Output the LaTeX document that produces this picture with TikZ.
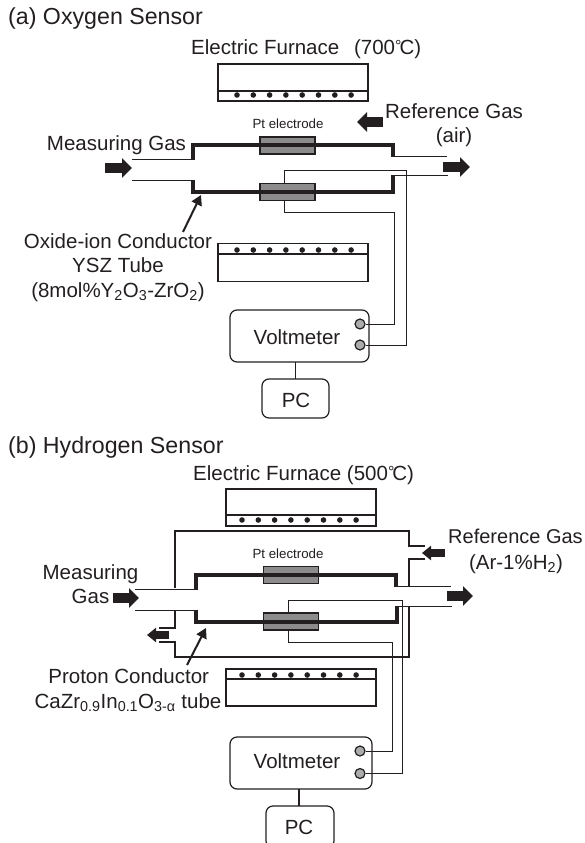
\documentclass[tikz,border=0pt]{standalone}
\usepackage{fontspec}
\setmainfont{Liberation Sans}
\usetikzlibrary{calc,arrows.meta}
\definecolor{ink}{HTML}{231F20}
\newcommand{\degC}{{\fontsize{16}{16}\selectfont\raisebox{3pt}{°}}\kern-2pt C}
\begin{document}
\begin{tikzpicture}[x=1pt,y=-1pt,color=ink,text=ink,font=\fontsize{20.5}{24}\selectfont]
        \tikzstyle{label text}=[inner sep=0,anchor=base]
        \tikzstyle{title text}=[inner sep=0,anchor=base west,font=\fontsize{23.2}{26}\selectfont]
        \tikzstyle{small text}=[inner sep=0,anchor=base,font=\fontsize{13.3}{16}\selectfont]
        \tikzstyle{furnace}=[rectangle,draw,line width=1.3,inner sep=0,outer sep=0,minimum width=150,fill=white]
        \tikzstyle{heater}=[line width=2.7]
        \tikzstyle{heat dot}=[circle,fill=ink,inner sep=0,minimum size=5.6]
        \tikzstyle{electrode}=[rectangle,draw,line width=1.2,fill=gray!90,inner sep=0,outer sep=0,minimum width=55,minimum height=17]
        \tikzstyle{tube}=[line width=4]
        \tikzstyle{thin tube}=[line width=1]
        \tikzstyle{chamber}=[line width=2.2]
        \tikzstyle{wire}=[line width=1]
        \tikzstyle{terminal}=[circle,draw,line width=1.2,fill=gray!65,inner sep=0,minimum size=10]
        \tikzstyle{meter}=[rectangle,draw,rounded corners=7,line width=1.2,inner sep=0,outer sep=0]
        \tikzstyle{gas arrow}=[line width=10,-{Triangle[length=10,width=19]}]
        \tikzstyle{small gas arrow}=[line width=7.5,-{Triangle[length=9,width=14]}]
        \tikzstyle{pointer}=[line width=2,-{Triangle[length=10,width=11]}]

        \useasboundingbox (0,0) rectangle (585,843);

        % (a) oxygen sensor
        \node(titleA)[title text] at (8,25){(a) Oxygen Sensor};
        \node(furnTextA)[label text,anchor=base west] at (191,55){Electric Furnace \ \,(700\degC)};
        \node(furnA1)[furnace,minimum height=37] at (293,82.5){};
        \node(furnA2)[furnace,minimum height=38] at (293,262.5){};
        \draw[heater] (furnA1.west |- 0,91) -- (furnA1.east |- 0,91);
        \draw[heater] (furnA2.west |- 0,254) -- (furnA2.east |- 0,254);
        \foreach \i in {0,...,7}{
            \node[heat dot] (dotA1\i) at (237+16.3*\i,95){};
            \node[heat dot] (dotA2\i) at (237+16.3*\i,250){};
        }
        \node(elecA1)[electrode] at (287.5,145.5){};
        \node(elecA2)[electrode] at (287.5,192){};
        \draw[thin tube] (132,159) -- (193,159);
        \draw[thin tube] (393,156.5) -- (447,156.5);
        \draw[thin tube] (132,180.5) -- (193,180.5);
        \draw[thin tube] (393,175.7) -- (448,175.7);
        \draw[tube] (193,159.5) |- (393,145) -- (393,157);
        \draw[tube] (193,180) |- (393,191.7) -- (393,175);
        \node(meterA)[meter,minimum width=139,minimum height=52] at (299.5,336){};
        \node(voltA)[inner sep=0] at (297,337){Voltmeter};
        \node(termA1)[terminal] at (360,324){};
        \node(termA2)[terminal] at (360,345){};
        \node(pcA)[meter,minimum width=67,minimum height=39] at (295.5,398.5){};
        \node(pcTextA)[inner sep=0] at (296,400){PC};
        \coordinate (wireA1) at (406,170);
        \coordinate (wireA2) at (394,212);
        \draw[wire] ([xshift=-3]elecA2.north) |- (wireA1) |- (termA2);
        \draw[wire] ([xshift=-3]elecA2.south) |- (wireA2) |- (termA1);
        \draw[line width=1.2] (pcA.north) -- (pcA.north |- meterA.south);
        \node(ptA)[small text] at (288,128.5){Pt electrode};
        \node(refA)[label text] at (454,118){Reference Gas};
        \node(airA)[label text] at (454,142){(air)};
        \node(measA)[label text] at (116.5,150.5){Measuring Gas};
        \node(oxideA)[label text] at (118,248){Oxide-ion Conductor};
        \node(ysz)[label text] at (118,272){YSZ Tube};
        \node(yszB)[label text] at (118,297){(8mol\%Y\textsubscript{2}O\textsubscript{3}-ZrO\textsubscript{2})};
        \draw[gas arrow] (105,168) -- (132,168);
        \draw[gas arrow] (383,122) -- (357,122);
        \draw[gas arrow] (443,167) -- (470,167);
        \coordinate (tipA) at (201,195);
        \draw[pointer] (oxideA.north -| 183,0) ++(0,-1) -- (tipA);

        % (b) hydrogen sensor
        \node(titleB)[title text] at (8,453){(b) Hydrogen Sensor};
        \node(furnTextB)[label text,anchor=base west] at (193,480){Electric Furnace (500\degC)};
        \node(furnB1)[furnace,minimum height=37] at (301,507.5){};
        \node(furnB2)[furnace,minimum height=37] at (301,687.5){};
        \draw[line width=2] (furnB1.west |- 0,515) -- (furnB1.east |- 0,515);
        \draw[heater] (furnB2.west |- 0,679) -- (furnB2.east |- 0,679);
        \foreach \i in {0,...,7}{
            \node[heat dot] (dotB1\i) at (242+16.3*\i,520){};
            \node[heat dot] (dotB2\i) at (242+16.3*\i,675){};
        }
        \node(elecB1)[electrode] at (291,575){};
        \node(elecB2)[electrode] at (291,621.5){};
        \draw[chamber] (175,588) |- (409,530.7) |- (425,546);
        \draw[chamber] (425,559) -| (409,586);
        \draw[chamber] (409,607) |- (175,656.7) |- (159,641.7);
        \draw[chamber] (159,628) -| (175,611);
        \draw[thin tube] (135,589.3) -- (196,589.3);
        \draw[thin tube] (396,586) -- (451,586);
        \draw[thin tube] (135,610) -- (196,610);
        \draw[thin tube] (397,606) -- (452,606);
        \draw[tube] (196,589.8) |- (396,575) -- (396,586.5);
        \draw[tube] (196,609.5) |- (397,621.7) -- (397,605.5);
        \node(meterB)[meter,minimum width=142,minimum height=52] at (301,763){};
        \node(voltB)[inner sep=0] at (297,761){Voltmeter};
        \node(termB1)[terminal] at (360,751){};
        \node(termB2)[terminal] at (360,773.5){};
        \node(pcB)[meter,minimum width=68,minimum height=42] at (300,827){};
        \node(pcTextB)[inner sep=0] at (299,827){PC};
        \coordinate (wireB1) at (402.7,600);
        \coordinate (wireB2) at (392,642);
        \draw[wire] ([xshift=-3]elecB2.north) |- (wireB1) |- (termB2);
        \draw[wire] ([xshift=-3]elecB2.south) |- (wireB2) |- (termB1);
        \draw[line width=1.2] (299,789) -- (299,806);
        \node(ptB)[small text] at (288,558){Pt electrode};
        \node(refB)[label text,font=\fontsize{20}{24}\selectfont] at (515.5,543){Reference Gas};
        \node(arB)[label text] at (516,569){(Ar-1\%H\textsubscript{2})};
        \node(measB)[label text] at (90.5,579){Measuring};
        \node(gasB)[label text] at (90.5,603){Gas};
        \node(proton)[label text] at (128.7,683){Proton Conductor};
        \node(cazr)[label text] at (128,708){CaZr\textsubscript{0.9}In\textsubscript{0.1}O\textsubscript{3-α} tube};
        \draw[gas arrow] (113,598) -- (139,598);
        \draw[gas arrow] (447,596) -- (473,596);
        \draw[small gas arrow] (445,553) -- (422,553);
        \draw[small gas arrow] (169,635) -- (147,635);
        \coordinate (tipB) at (206,628);
        \draw[pointer] (187,665) -- (tipB);
    \end{tikzpicture}
\end{document}
